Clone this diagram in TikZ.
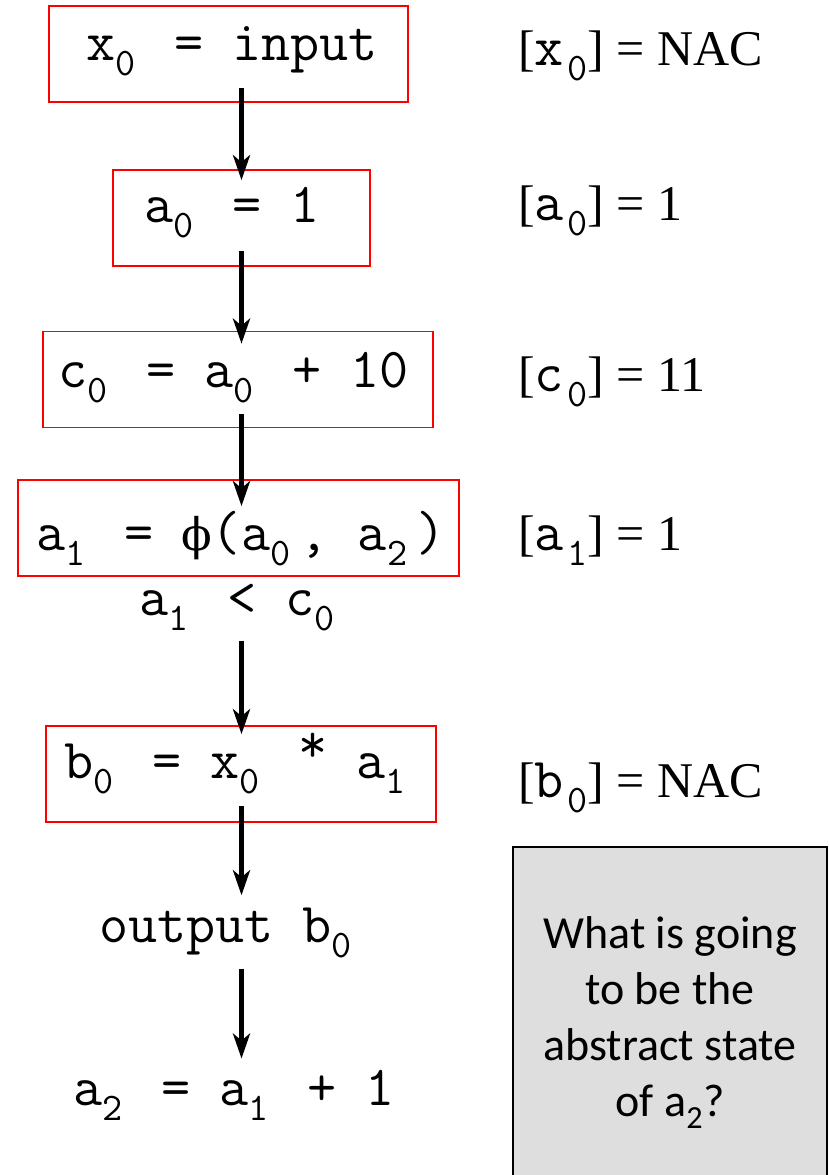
\documentclass[tikz,border=0pt]{standalone}
\usepackage{fontspec}
\setmainfont{Liberation Serif}
\newfontfamily\notefont{Carlito}
\newfontfamily\phifont{DejaVu Serif}
\usetikzlibrary{positioning,arrows.meta,calc}
\definecolor{notegray}{RGB}{222,222,222}
\newcommand{\codesize}{\fontsize{56.5}{64}\selectfont}
% subscript that keeps the monospace grid
\newcommand{\csub}[1]{\makebox[0.525em][l]{\raisebox{-15pt}{\fontsize{39}{39}\selectfont #1}}}
\newcommand{\lsub}[1]{\makebox[0.42em][r]{\raisebox{-15pt}{\fontsize{39}{39}\selectfont #1}}}
\newcommand{\cphi}{\makebox[0.525em]{\fontsize{45}{45}\phifont ϕ}}
\newcommand{\cstar}{\raisebox{16pt}{*}}

\begin{document}
\begin{tikzpicture}[x=1pt, y=-1pt, >={Stealth[length=25pt,width=17pt,inset=7pt]},
  code/.style={font=\ttfamily\codesize, inner sep=0pt, anchor=base west},
  state/.style={font=\fontsize{50}{56}\selectfont, inner sep=0pt, anchor=base west},
  redbox/.style={draw=red, line width=1.6pt, inner sep=0pt, minimum height=96pt},
  flow/.style={->, line width=4.5pt}]

\useasboundingbox (0,0) rectangle (829,1175);

% ---------------- statement boxes ----------------
\node[redbox, minimum width=359pt] (x0box) at (228.5,54) {};
\node[redbox, minimum width=257pt] (a0box) at (241.5,218) {};
\node[redbox, minimum width=390pt] (c0box) at (238,379.5) {};
\node[redbox, minimum width=441pt] (a1box) at (238.5,528) {};
\node[redbox, minimum width=390pt] (b0box) at (241,774) {};

% ---------------- code lines ----------------
\node[code] (x0) at (86,60) {x\csub{0} = input};
\node[code] (a0) at (144,222) {a\csub{0} = 1};
\node[code] (c0) at (58,387) {c\csub{0} = a\csub{0} + 10};
\node[code] (a1) at (36,550) {a\csub{1} = \cphi(a\csub{0}, a\csub{2})};
\node[code] (cond) at (139,615) {a\csub{1} < c\csub{0}};
\node[code] (b0) at (64,778) {b\csub{0} = x\csub{0} \cstar{} a\csub{1}};
\node[code] (outp) at (99,942) {output b\csub{0}};
\node[code] (a2) at (73,1105) {a\csub{2} = a\csub{1} + 1};

% ---------------- abstract states ----------------
\node[state] (x0val) at (518,65) {[{\ttfamily\codesize x\lsub{0}}] = NAC};
\node[state] (a0val) at (518,220) {[{\ttfamily\codesize a\lsub{0}}] = 1};
\node[state] (c0val) at (518,391) {[{\ttfamily\codesize c\lsub{0}}] = 11};
\node[state] (a1val) at (518,550) {[{\ttfamily\codesize a\lsub{1}}] = 1};
\node[state] (b0val) at (518,797) {[{\ttfamily\codesize b\lsub{0}}] = NAC};

% ---------------- question ----------------
\node[draw=black, line width=2pt, fill=notegray, minimum width=314pt, minimum height=333pt] (qbox) at (670,1013.5) {};
\node[font=\fontsize{46}{56}\notefont, align=center, inner sep=0pt, anchor=north] (qtext) at (670,916)
  {What is going\\to be the\\abstract state\\of a\textsubscript{2}?};

% ---------------- flow ----------------
\draw[flow] ($(x0box.south -| a0box.north)+(0,-15)$) -- ($(a0box.north)+(0,11)$);
\draw[flow] ($(a0box.south)+(0,-16)$) -- ($(a0box.south |- c0box.north)+(0,13)$);
\draw[flow] ($(a0box.south |- c0box.south)+(0,-14)$) -- ($(a0box.south |- a1box.north)+(0,27)$);
\draw[flow] ($(a0box.south |- cond.south)+(0,10)$) -- ($(a0box.south |- b0box.north)+(0,9)$);
\draw[flow] ($(a0box.south |- b0box.south)+(0,-17)$) -- ($(a0box.south |- outp.north)+(0,-12)$);
\draw[flow] ($(a0box.south |- outp.south)+(0,11)$) -- ($(a0box.south |- a2.north)+(0,-11)$);

\end{tikzpicture}
\end{document}
